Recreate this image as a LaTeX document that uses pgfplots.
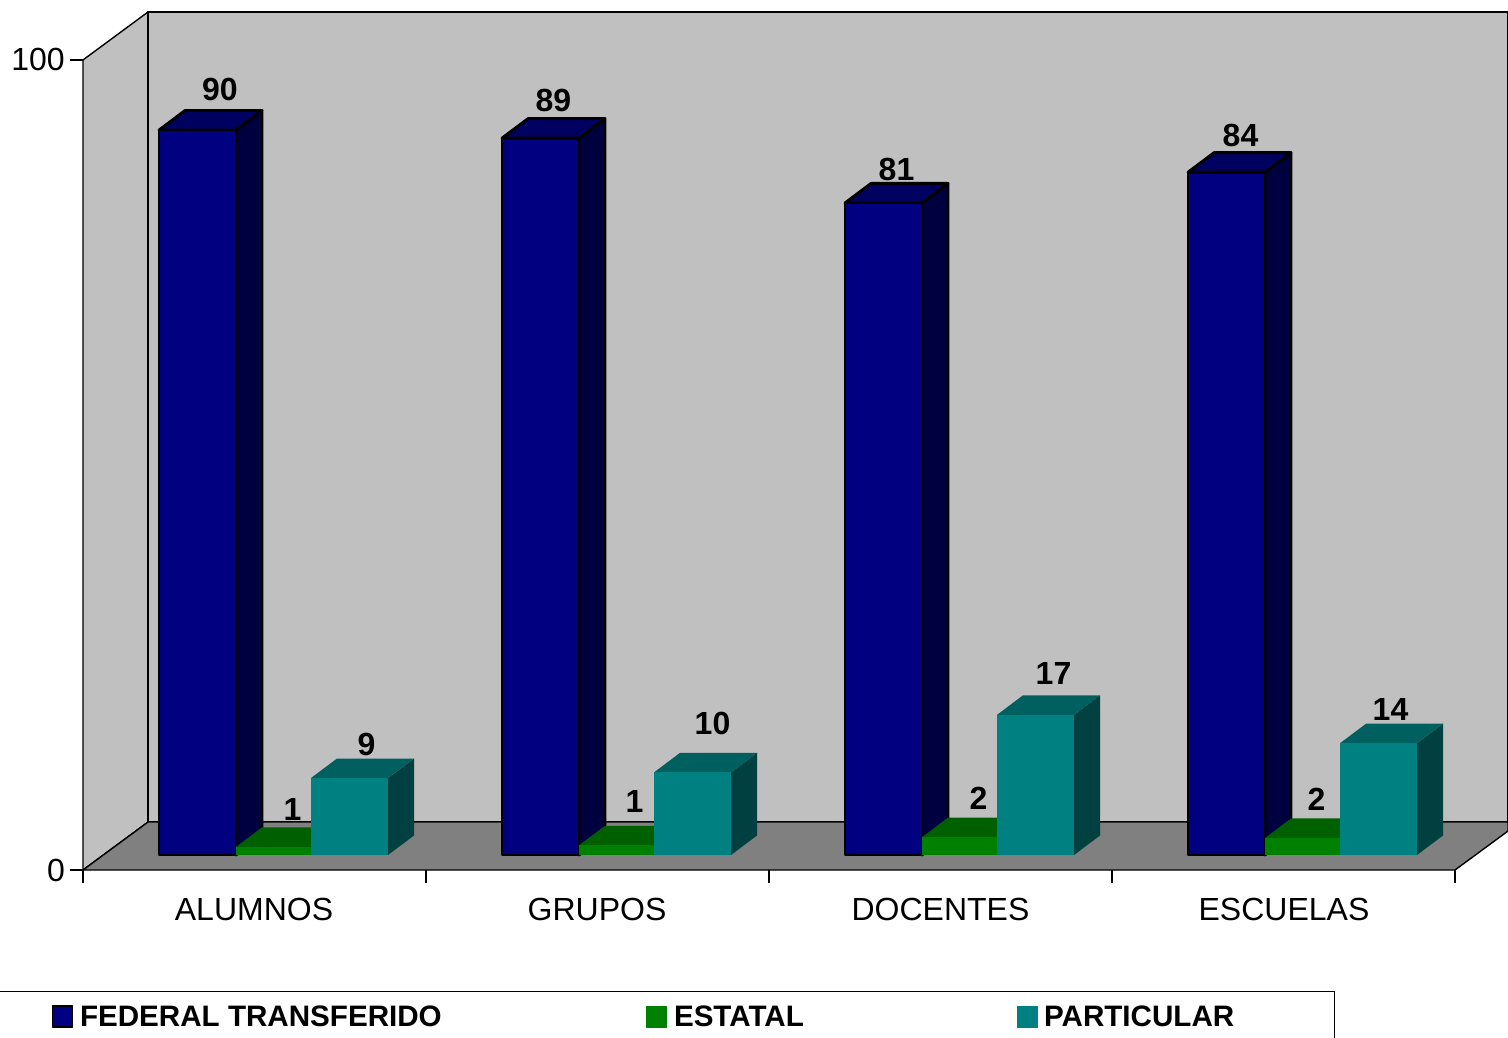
\documentclass[border=0pt]{standalone}
\usepackage{fontspec}
\setmainfont{Liberation Sans}
\usepackage{pgfplots}
\pgfplotsset{compat=1.18}
\definecolor{navyF}{HTML}{000080}\definecolor{navyT}{HTML}{000060}\definecolor{navyS}{HTML}{000040}
\definecolor{greenF}{HTML}{008000}\definecolor{greenT}{HTML}{006000}\definecolor{greenS}{HTML}{004000}
\definecolor{tealF}{HTML}{008080}\definecolor{tealT}{HTML}{006060}\definecolor{tealS}{HTML}{004040}
\definecolor{wallc}{HTML}{C0C0C0}\definecolor{floorc}{HTML}{808080}
% one 3-D column: x left, x right, value, colour stem, outline
\newcommand\cube[5]{%
  \pgfmathsetmacro\xc{#2+26}\pgfmathsetmacro\xb{#1+26}\pgfmathsetmacro\vb{#3+2.41}\pgfmathsetmacro\zb{2.41}%
  \addplot[forget plot,fill=#4S,#5] coordinates {(#2,0)(\xc,\zb)(\xc,\vb)(#2,#3)} --cycle;
  \addplot[forget plot,fill=#4T,#5] coordinates {(#1,#3)(\xb,\vb)(\xc,\vb)(#2,#3)} --cycle;
  \addplot[forget plot,fill=#4F,#5] coordinates {(#1,0)(#1,#3)(#2,#3)(#2,0)} --cycle;
}
\newcommand\bigf{\fontsize{32}{36}\selectfont}
\begin{document}
\begin{tikzpicture}
\useasboundingbox (0,0) rectangle (1508pt,1037pt);
\begin{axis}[
  at={(83pt,167pt)}, anchor=south west, scale only axis,
  width=1425pt, height=858pt,
  xmin=83, xmax=1508, ymin=-1.85, ymax=104.07,
  clip=false, no markers,
  axis x line*=bottom, axis y line*=left,
  axis line style={draw=none},
  xtick={254,597,940.5,1284}, xticklabels={ALUMNOS,GRUPOS,DOCENTES,ESCUELAS},
  x tick style={draw=none},
  extra x ticks={83,426,769,1112,1455}, extra x tick labels={},
  extra x tick style={x tick style={draw=black,line width=1.2pt}},
  ytick={-1.85,98.15}, yticklabels={0,100},
  y tick style={draw=black,line width=1.2pt},
  tick align=outside, major tick length=13pt,
  x tick label style={font=\bigf, anchor=center, yshift=-26.5pt},
  y tick label style={font=\bigf, inner sep=0pt, xshift=-5pt},
  legend columns=3,
  legend cell align=left,
  legend style={at={(-0.0604,-0.141)}, anchor=north west, draw=black, line width=1.2pt,
    font=\fontsize{29.6}{34}\selectfont\bfseries, inner xsep=54pt, inner ysep=12pt,
    /tikz/column 1/.style={column sep=5pt},
    /tikz/column 3/.style={column sep=5pt},
    /tikz/column 5/.style={column sep=4pt},
    /tikz/column 2/.style={column sep=202pt},
    /tikz/column 4/.style={column sep=211pt}},
  legend image code/.code={\path[#1] (0pt,-10.5pt) rectangle (20pt,10.5pt);},
  every node near coord/.append style={font=\bigf\bfseries, anchor=center, inner sep=0pt, yshift=-0.5pt, xshift=0.5pt},
]
\addlegendimage{fill=navyF,draw=black,line width=1.5pt}\addlegendentry{FEDERAL TRANSFERIDO}
\addlegendimage{fill=greenF,draw=greenF}\addlegendentry{ESTATAL}
\addlegendimage{fill=tealF,draw=tealF}\addlegendentry{PARTICULAR\hspace*{44pt}}
% walls and floor
\addplot[forget plot,fill=wallc,draw=black,line width=1.4pt] coordinates {(83,98.15)(148,104.07)(148,4.07)(83,-1.85)} --cycle;
\addplot[forget plot,fill=wallc,draw=black,line width=1.4pt] coordinates {(148,4.07)(148,104.07)(1508,104.07)(1508,4.07)} --cycle;
\addplot[forget plot,fill=floorc,draw=black,line width=1.4pt] coordinates {(83,-1.85)(148,4.07)(1508,4.07)(1508,2.96)(1455,-1.85)} --cycle;
% columns
\pgfplotsset{every axis plot/.append style={line join=round}}
\cube{159}{236}{89.5}{navy}{draw=black,line width=2.8pt}
\cube{236}{311}{1.0}{green}{draw=none}
\cube{311}{388}{9.5}{teal}{draw=none}
\cube{502}{579}{88.5}{navy}{draw=black,line width=2.8pt}
\cube{579}{654}{1.2}{green}{draw=none}
\cube{654}{731}{10.2}{teal}{draw=none}
\cube{845}{922}{80.5}{navy}{draw=black,line width=2.8pt}
\cube{922}{997}{2.2}{green}{draw=none}
\cube{997}{1074}{17.3}{teal}{draw=none}
\cube{1188}{1265}{84.3}{navy}{draw=black,line width=2.8pt}
\cube{1265}{1340}{2.1}{green}{draw=none}
\cube{1340}{1417}{13.8}{teal}{draw=none}
% data labels
\addplot[forget plot,draw=none,nodes near coords,point meta=explicit symbolic] coordinates {
 (219.5,94.57)[90] (292,5.68)[1] (366,13.70)[9]
 (553,93.21)[89] (634,6.67)[1] (712,16.30)[10]
 (896,84.69)[81] (978,7.04)[2] (1053,22.47)[17]
 (1240,88.89)[84] (1316,6.91)[2] (1390,18.02)[14]};
\end{axis}
\end{tikzpicture}
\end{document}
